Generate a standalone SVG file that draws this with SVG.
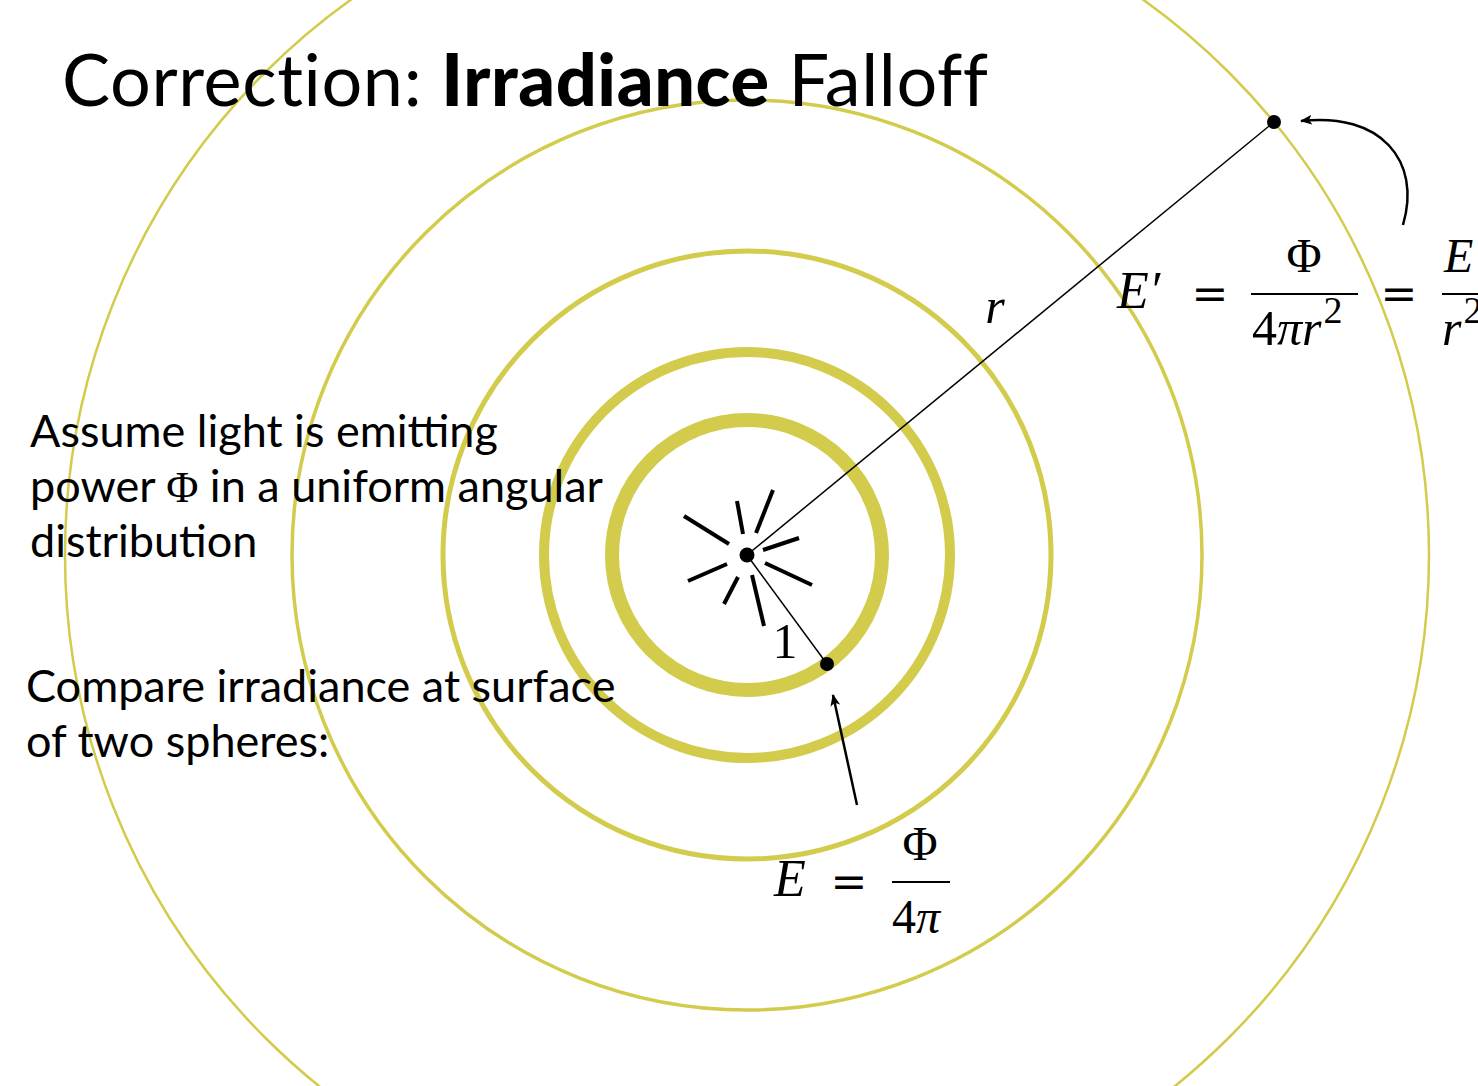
<svg xmlns="http://www.w3.org/2000/svg" width="1478" height="1086" viewBox="0 0 1478 1086">
<style>
.ring{fill:none;stroke:#d3cb4b}
.ray{stroke:#000;stroke-width:4;stroke-linecap:butt}
.thin{stroke:#000;stroke-width:1.5;fill:none}
.arr{stroke:#000;stroke-width:2.5;fill:none}
.txt{font-family:Lato,"Open Sans",sans-serif;fill:#000}
.math{font-family:"Liberation Serif","DejaVu Serif",serif;fill:#000}
.eq{font-family:"DejaVu Serif",serif;fill:#000}
.it{font-style:italic}
</style>
<defs>
<marker id="ah" viewBox="0 0 12 10" refX="11" refY="5" markerWidth="12" markerHeight="10" markerUnits="userSpaceOnUse" orient="auto">
<path d="M0,0 L12,5 L0,10 L3,5 Z" fill="#000"/>
</marker>
</defs>
<rect width="1478" height="1086" fill="#fff"/>
<g id="spheres">
<circle class="ring" cx="747" cy="555" r="682" stroke-width="2.5"/>
<circle class="ring" cx="747" cy="555" r="455" stroke-width="3.5"/>
<circle class="ring" cx="747" cy="555" r="304" stroke-width="5"/>
<circle class="ring" cx="747" cy="555" r="203" stroke-width="10"/>
<circle class="ring" cx="747" cy="555" r="135" stroke-width="14"/>
</g>
<g id="title">
<text class="txt" x="62" y="106" font-size="72" letter-spacing="0.6">Correction: <tspan font-weight="900">Irradiance</tspan> Falloff</text>
</g>
<g id="text-assume">
<text class="txt" font-size="45"><tspan x="30" y="447">Assume light is emitting</tspan><tspan x="30" y="502">power <tspan class="math" font-size="44">Φ</tspan> in a uniform angular</tspan><tspan x="30" y="557">distribution</tspan></text>
</g>
<g id="text-compare">
<text class="txt" font-size="45"><tspan x="26" y="702">Compare irradiance at surface</tspan><tspan x="26" y="757">of two spheres:</tspan></text>
</g>
<g id="connectors">
<line class="thin" x1="747" y1="555" x2="1274" y2="122"/>
<line class="thin" x1="747" y1="555" x2="827" y2="664"/>
<path class="arr" d="M1403,225 C1422,160 1380,112 1301,121" marker-end="url(#ah)"/>
<line class="arr" x1="857" y1="805" x2="833" y2="695" marker-end="url(#ah)"/>
</g>
<g id="light-source">
<line class="ray" x1="684" y1="516" x2="729" y2="544"/>
<line class="ray" x1="737" y1="501" x2="743" y2="534"/>
<line class="ray" x1="773" y1="490" x2="756" y2="533"/>
<line class="ray" x1="763" y1="550" x2="799" y2="538"/>
<line class="ray" x1="765" y1="563" x2="812" y2="585"/>
<line class="ray" x1="752" y1="575" x2="764" y2="626"/>
<line class="ray" x1="738" y1="577" x2="724" y2="604"/>
<line class="ray" x1="727" y1="564" x2="688" y2="581"/>
<circle cx="747" cy="555" r="7.5" fill="#000"/>
</g>
<g id="point-inner">
<circle cx="827" cy="664" r="7" fill="#000"/>
<text class="math" x="785" y="658" font-size="50" text-anchor="middle">1</text>
</g>
<g id="point-outer">
<circle cx="1274" cy="122" r="7" fill="#000"/>
<text class="math it" x="995" y="323" font-size="50" text-anchor="middle">r</text>
</g>
<g id="formula-E">
<text class="math it" x="774" y="896" font-size="52">E</text>
<text class="eq" x="849" y="897" font-size="44" text-anchor="middle">=</text>
<text class="math" x="920" y="860" font-size="48" text-anchor="middle">Φ</text>
<line x1="892" y1="882" x2="950" y2="882" stroke="#000" stroke-width="2"/>
<text class="math" x="892" y="933" font-size="48">4<tspan class="it">π</tspan></text>
</g>
<g id="formula-Eprime">
<text class="math it" x="1117" y="308" font-size="52">E′</text>
<text class="eq" x="1210" y="309" font-size="44" text-anchor="middle">=</text>
<text class="math" x="1304" y="272" font-size="48" text-anchor="middle">Φ</text>
<line x1="1251" y1="294" x2="1358" y2="294" stroke="#000" stroke-width="2"/>
<text class="math" x="1252" y="345" font-size="50">4<tspan class="it">πr</tspan><tspan font-size="38" dy="-22" dx="2">2</tspan></text>
<text class="eq" x="1399" y="309" font-size="44" text-anchor="middle">=</text>
<text class="math it" x="1444" y="272" font-size="48">E</text>
<line x1="1442" y1="294" x2="1478" y2="294" stroke="#000" stroke-width="2"/>
<text class="math" x="1442" y="345" font-size="50"><tspan class="it">r</tspan><tspan font-size="38" dy="-22" dx="2">2</tspan></text>
</g>
</svg>
